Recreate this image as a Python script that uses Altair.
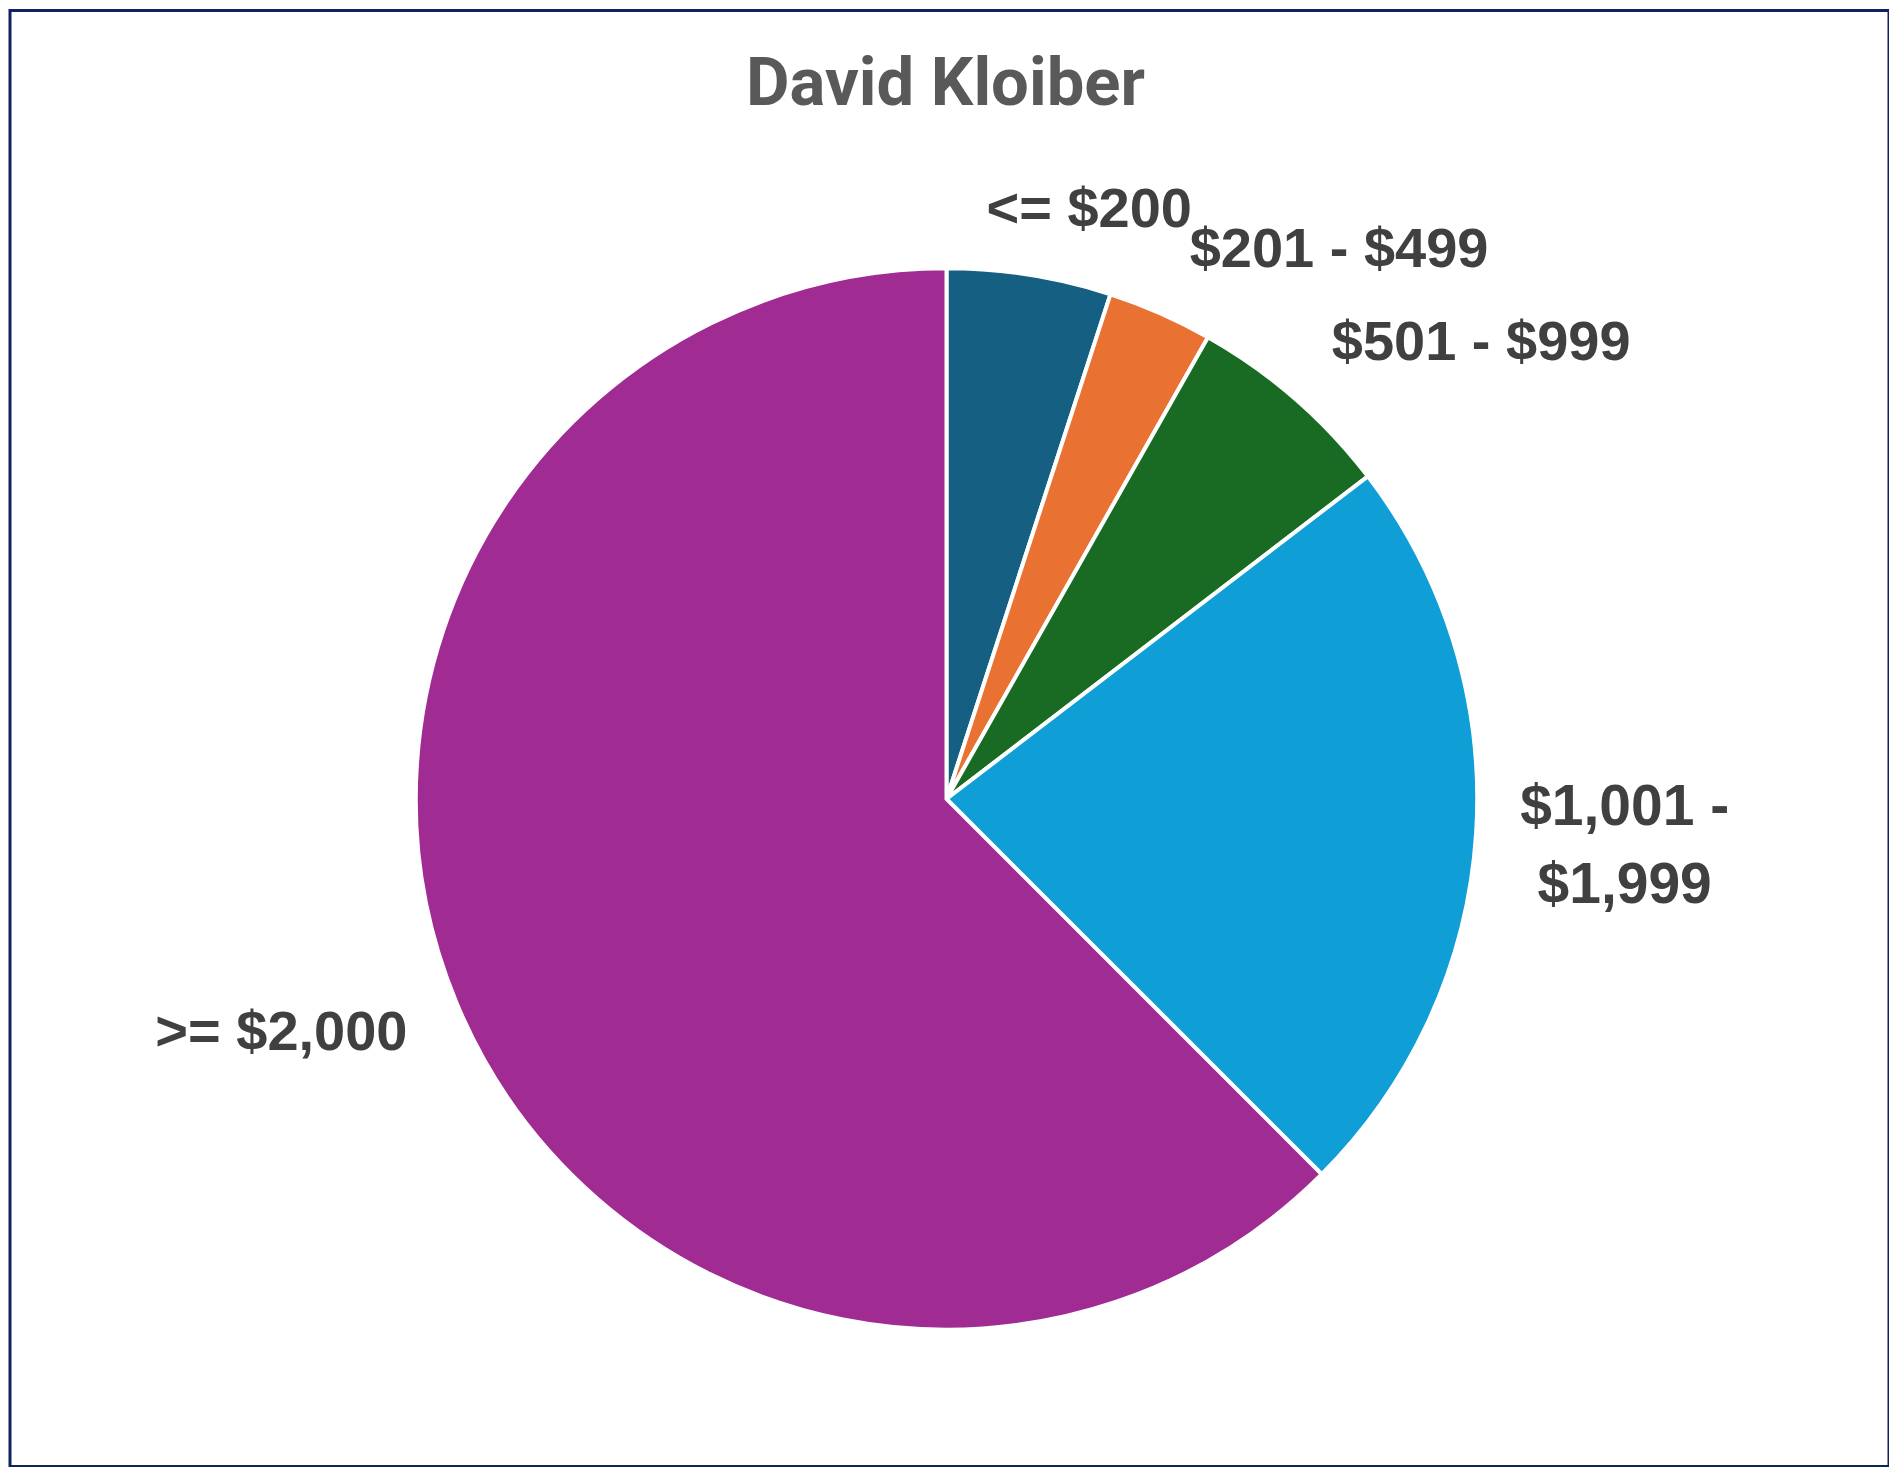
import altair as alt
import pandas as pd

chart_title = "David Kloiber"
categories = ["<= $200", "$201 - $499", "$501 - $999", "$1,001 - $1,999", ">= $2,000"]
label_text = ["<= $200", "$201 - $499", "$501 - $999", "$1,001 -\n$1,999", ">= $2,000"]
shares = [5.0, 3.2, 6.4, 22.9, 62.5]
colors = ["#156082", "#E97132", "#196B24", "#0F9ED5", "#A02B93"]

df = pd.DataFrame({
    "category": categories,
    "label": label_text,
    "share": shares,
    "order": list(range(len(categories))),
})

W, H = 1880, 1457
CX, CY, R = 937, 789, 531

base = alt.Chart(df)

pie = base.mark_arc(radius=R, stroke="white", strokeWidth=4).encode(
    theta=alt.Theta("share:Q", stack=True),
    color=alt.Color("category:N", scale=alt.Scale(domain=categories, range=colors), legend=None),
    order=alt.Order("order:Q"),
    x=alt.value(CX),
    y=alt.value(CY),
)

# label styling: (font size, radius, dx, dy)
label_style = {
    "<= $200": (56, 600, 49, 3),
    "$201 - $499": (56, 600, 151, 0),
    "$501 - $999": (56, 600, 141, -4),
    "$1,001 - $1,999": (57, 680, 0, -36),
    ">= $2,000": (56, 690, -28, -30),
}

lab_base = base.transform_window(
    cum="sum(share)", sort=[alt.SortField("order")]
).transform_calculate(mid="datum.cum - datum.share / 2")

layers = [pie]
for cat in categories:
    size, rad, dx, dy = label_style[cat]
    layers.append(
        lab_base.transform_filter(alt.datum.category == cat)
        .mark_text(font="Liberation Sans", fontSize=size, fontWeight="bold", color="#404040",
                   align="center", baseline="middle", dx=dx, dy=dy,
                   lineBreak="\n", lineHeight=78)
        .encode(theta=alt.Theta("mid:Q"), radius=alt.value(rad), text="label:N",
                x=alt.value(CX), y=alt.value(CY))
    )

title_layer = alt.Chart(pd.DataFrame({"t": [chart_title]})).mark_text(
    font="Roboto", fontSize=67, fontWeight="bold", color="#595959",
    align="center", baseline="alphabetic",
).encode(text="t:N", x=alt.value(936), y=alt.value(95))
layers.append(title_layer)

chart = alt.layer(*layers).properties(
    width=W, height=H,
    autosize=alt.AutoSizeParams(type="none"),
    padding={"left": 2, "top": 2, "right": 0, "bottom": 0},
    background="white",
).configure_view(stroke="#10235E", strokeWidth=3)

chart.save("out.html", embed_options={"renderer": "svg", "actions": False})
